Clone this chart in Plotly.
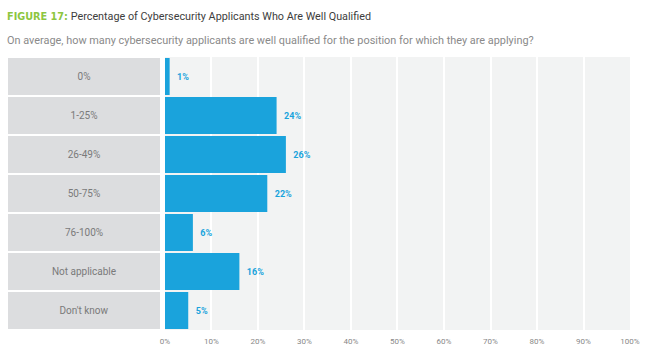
import plotly.graph_objects as go

categories = ["0%", "1-25%", "26-49%", "50-75%", "76-100%", "Not applicable", "Don't know"]
values = [1, 24, 26, 22, 6, 16, 5]
value_labels = ["1%", "24%", "26%", "22%", "6%", "16%", "5%"]
tick_vals = [0, 10, 20, 30, 40, 50, 60, 70, 80, 90, 100]
tick_text = ["0%", "10%", "20%", "30%", "40%", "50%", "60%", "70%", "80%", "90%", "100%"]

BLUE = "#1aa3dc"
PANEL = "#dcdddf"
BG = "#f2f3f3"
FONT = "Roboto, 'Open Sans', sans-serif"

fig = go.Figure()

# label panel
fig.add_trace(go.Bar(
    y=categories, x=[1] * len(categories), orientation="h",
    xaxis="x2", yaxis="y",
    width=1.0,
    marker=dict(color=PANEL, line=dict(color="white", width=2)),
    text=categories, textposition="inside", insidetextanchor="middle",
    textfont=dict(family=FONT, size=10, color="#7a7a7a"),
    hoverinfo="skip", showlegend=False,
))

# values
fig.add_trace(go.Bar(
    y=categories, x=values, orientation="h",
    xaxis="x", yaxis="y",
    width=0.95,
    marker=dict(color=BLUE, line=dict(width=0)),
    text=["\u00a0\u00a0" + t for t in value_labels], textposition="outside",
    textfont=dict(family=FONT, size=9, color=BLUE, weight="bold"),
    cliponaxis=False, showlegend=False,
))

fig.update_layout(
    width=648, height=351,
    margin=dict(l=7, r=18, t=57, b=21, pad=0, autoexpand=False),
    paper_bgcolor="white", plot_bgcolor=BG,
    font=dict(family=FONT),
    bargap=0.05,
    uniformtext=dict(mode="show", minsize=8),
    xaxis=dict(domain=[0.2536, 1.0], range=[0, 100], tickvals=tick_vals, ticktext=tick_text,
               showgrid=True, gridcolor="white", gridwidth=2, zeroline=False,
               showline=False, ticks="", tickfont=dict(family=FONT, size=8, color="#888888"),
               ticklabelstandoff=5, automargin=False),
    xaxis2=dict(domain=[0, 0.2472], range=[0, 1], showgrid=False, zeroline=False,
                showticklabels=False, ticks="", automargin=False),
    yaxis=dict(categoryorder="array", categoryarray=categories, autorange="reversed",
               range=[6.5, -0.5], showticklabels=False, showgrid=False, zeroline=False,
               ticks="", automargin=False),
)
fig.add_annotation(x=0, xref="paper", xanchor="left", xshift=-2, y=1 + (57 - 16) / 273, yref="paper",
                   yanchor="middle", showarrow=False, align="left",
                   text="<span style=\"color:#8dc63f;font-family:'Liberation Sans Narrow','DejaVu Sans Condensed',sans-serif\"><b>FIGURE 17:</b></span> "
                        "<span style='color:#3d3d3d'>Percentage of Cybersecurity Applicants Who Are Well Qualified</span>",
                   font=dict(family=FONT, size=10.8))
fig.add_annotation(x=0, xref="paper", xanchor="left", xshift=-2, y=1 + (57 - 40) / 273, yref="paper",
                   yanchor="middle", showarrow=False, align="left",
                   text="On average, how many cybersecurity applicants are well qualified for the position for which they are applying?",
                   font=dict(family=FONT, size=10.9, color="#8a8a8a"))

fig.write_html("out.html")
